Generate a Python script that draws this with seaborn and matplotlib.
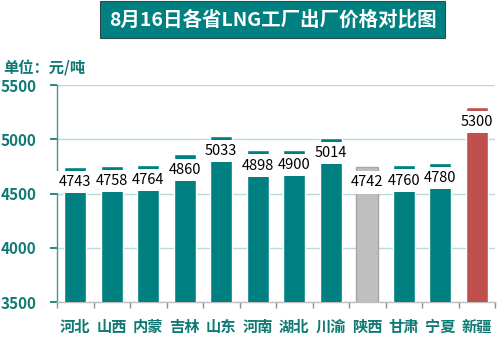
import matplotlib
matplotlib.use("Agg")
import matplotlib.pyplot as plt
import seaborn as sns
import pandas as pd

provinces = ["河北", "山西", "内蒙", "吉林", "山东", "河南", "湖北", "川渝", "陕西", "甘肃", "宁夏", "新疆"]
prices = [4743, 4758, 4764, 4860, 5033, 4898, 4900, 5014, 4742, 4760, 4780, 5300]
bar_colors = ["#008080"] * 8 + ["#bfbfbf"] + ["#008080"] * 2 + ["#c0504d"]
yticks = [3500, 4000, 4500, 5000, 5500]
title = "8月16日各省LNG工厂出厂价格对比图"
unit = "单位：元/吨"

sns.set_theme(style="white")
plt.rcParams["font.family"] = ["Noto Sans CJK SC", "DejaVu Sans"]
TEAL = "#0f7a74"

fig = plt.figure(figsize=(5.0, 3.43), dpi=100)
ax = fig.add_axes([0.114, 0.1195, 0.876, 0.6325])

df = pd.DataFrame({"province": provinces, "price": prices})
sns.barplot(data=df, x="province", y="price", hue="province", palette=bar_colors,
            legend=False, width=0.6, saturation=1, ax=ax, zorder=3)
for i, p in enumerate(ax.patches):
    if bar_colors[i] == "#bfbfbf":
        p.set_edgecolor("#a6a6a6")
        p.set_linewidth(1.0)
    else:
        p.set_edgecolor("white")
        p.set_linewidth(1.0)

ax.set_ylim(3500, 5500)
ax.set_xlim(-0.5, len(provinces) - 0.5)
ax.set_yticks(yticks)
ax.set_yticklabels([str(t) for t in yticks], color=TEAL, fontweight="bold", fontsize=11)
ax.set_xticks(range(len(provinces)))
ax.set_xticklabels(provinces, color=TEAL, fontweight="bold", fontsize=11)
ax.set_xlabel("")
ax.set_ylabel("")
ax.tick_params(axis="x", length=0, pad=12)
ax.set_xticks([i + 0.5 for i in range(-1, len(provinces))], minor=True)
ax.tick_params(axis="x", which="minor", length=4, color="#8c8c8c", direction="out", bottom=True)
ax.tick_params(axis="y", length=5, color=TEAL, left=True, pad=10)

ax.grid(axis="y", color="#b7dcd9", linewidth=1.0, zorder=0)
ax.set_axisbelow(True)
for s in ["top", "right"]:
    ax.spines[s].set_visible(False)
ax.spines["left"].set_color("#3a9b95")
ax.spines["left"].set_linewidth(1.0)
ax.spines["bottom"].set_color("#bfbfbf")
ax.spines["bottom"].set_linewidth(1.0)

for i, v in enumerate(prices):
    ax.text(i, v - 140, str(v), ha="center", va="center", fontsize=10.5,
            color="black", zorder=5,
            bbox=dict(facecolor="white", edgecolor="none", boxstyle="square,pad=0.28"))

fig.text(0.545, 0.943, title, ha="center", va="center", color="white",
         fontsize=14, fontweight="bold",
         bbox=dict(facecolor="#008080", edgecolor="#2b4a48", boxstyle="square,pad=0.45", linewidth=0.8))
fig.text(0.006, 0.8, unit, ha="left", va="center", color=TEAL, fontsize=11, fontweight="bold")

fig.savefig("out.png", dpi=100)
